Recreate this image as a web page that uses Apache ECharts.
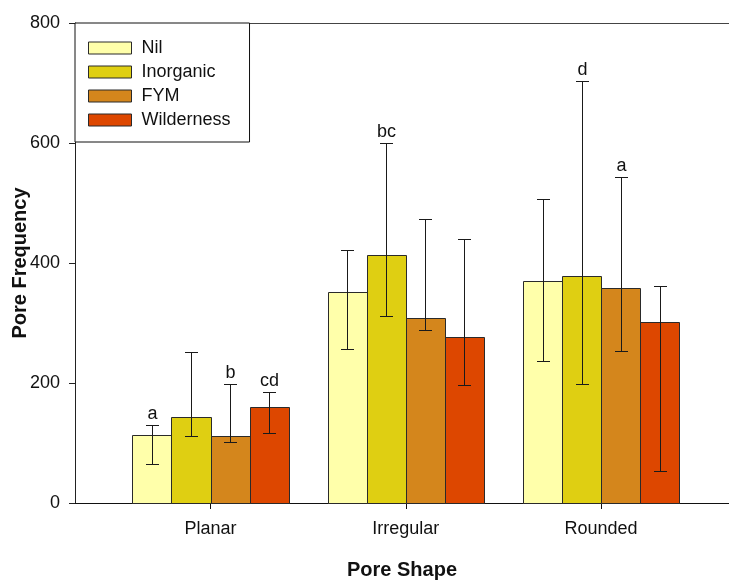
<!DOCTYPE html>
<html>
<head>
<meta charset="utf-8">
<script src="https://cdn.jsdelivr.net/npm/echarts@6/dist/echarts.min.js"></script>
<style>
  html, body { margin: 0; padding: 0; background: #fff; }
  #chart { width: 729px; height: 581px; }
</style>
</head>
<body>
<div id="chart"></div>
<script>
// Pore shape categories (placed at x = 1, 2, 3 on the value axis)
const shapes = ['Planar', 'Irregular', 'Rounded'];
const treatments = ['Nil', 'Inorganic', 'FYM', 'Wilderness'];

// Mean pore frequency with lower / upper error limits per treatment
const nilMean   = [113, 352, 370];
const nilLow    = [65, 256, 237];
const nilHigh   = [130, 422, 507];

const inorgMean = [144, 414, 378];
const inorgLow  = [112, 312, 198];
const inorgHigh = [252, 600, 704];

const fymMean   = [112, 309, 358];
const fymLow    = [102, 288, 253];
const fymHigh   = [199, 474, 543];

const wildMean  = [160, 277, 302];
const wildLow   = [116, 197, 53];
const wildHigh  = [185, 440, 361];

// Significance letters written above the upper error limit
const nilLetters   = ['a', '', ''];
const inorgLetters = ['', 'bc', 'd'];
const fymLetters   = ['b', '', 'a'];
const wildLetters  = ['cd', '', ''];

const yTicks = [0, 200, 400, 600, 800];

const colors = ['#FFFFAA', '#DFCF12', '#D4861C', '#DD4700'];
const means  = [nilMean, inorgMean, fymMean, wildMean];
const lows   = [nilLow, inorgLow, fymLow, wildLow];
const highs  = [nilHigh, inorgHigh, fymHigh, wildHigh];
const letters = [nilLetters, inorgLetters, fymLetters, wildLetters];

const offsets = [-0.3, -0.1, 0.1, 0.3];   // bar centre offset within a group
const barHalf = 0.1;                       // half bar width in axis units
const capHalf = 6.5;                       // half error-cap width in px
const FONT = '"Liberation Sans", Arial, sans-serif';

function renderItem(params, api) {
  const s = params.seriesIndex;
  const cat = api.value(0), mean = api.value(1), lo = api.value(2), hi = api.value(3);
  const c = cat + offsets[s];
  const tl = api.coord([c - barHalf, mean]);
  const br = api.coord([c + barHalf, 0]);
  const pHi = api.coord([c, hi]);
  const pLo = api.coord([c, lo]);
  const x = Math.round(pHi[0]) + 0.5;
  const yHi = Math.round(pHi[1]) + 0.5;
  const yLo = Math.round(pLo[1]) + 0.5;
  const lineStyle = { stroke: '#1a1a1a', lineWidth: 1 };
  const children = [
    {
      type: 'rect',
      shape: {
        x: Math.round(tl[0]) + 0.5, y: Math.round(tl[1]) + 0.5,
        width: Math.round(br[0]) - Math.round(tl[0]),
        height: Math.round(br[1]) - Math.round(tl[1])
      },
      style: { fill: colors[s], stroke: '#2a2a2a', lineWidth: 1 }
    },
    { type: 'line', shape: { x1: x, y1: yHi, x2: x, y2: yLo }, style: lineStyle },
    { type: 'line', shape: { x1: x - capHalf, y1: yHi, x2: x + capHalf, y2: yHi }, style: lineStyle },
    { type: 'line', shape: { x1: x - capHalf, y1: yLo, x2: x + capHalf, y2: yLo }, style: lineStyle }
  ];
  const txt = letters[s][params.dataIndex];
  if (txt) {
    children.push({
      type: 'text',
      style: {
        x: x, y: yHi - 2, text: txt,
        fill: '#111', font: '18px ' + FONT,
        textAlign: 'center', textVerticalAlign: 'bottom'
      }
    });
  }
  return { type: 'group', children: children };
}

const series = treatments.map(function (name, s) {
  return {
    name: name,
    type: 'custom',
    renderItem: renderItem,
    itemStyle: { color: colors[s], borderColor: '#2a2a2a', borderWidth: 1 },
    encode: { x: 0, y: 1 },
    data: shapes.map(function (_, i) {
      return [i + 1, means[s][i], lows[s][i], highs[s][i]];
    })
  };
});

const chart = echarts.init(document.getElementById('chart'), null, { renderer: 'canvas' });
chart.setOption({
  animation: false,
  backgroundColor: '#fff',
  textStyle: { fontFamily: FONT },
  grid: { left: 75, right: 0, top: 23, bottom: 78, outerBoundsMode: 'none', containLabel: false },
  legend: {
    orient: 'vertical',
    left: 75, top: 23,
    padding: [16, 19, 13, 13],
    itemWidth: 43, itemHeight: 12, itemGap: 6,
    icon: 'rect',
    backgroundColor: '#fff',
    borderColor: '#111', borderWidth: 1,
    itemStyle: { borderColor: '#2a2a2a', borderWidth: 1 },
    textStyle: { fontSize: 18, color: '#111', fontFamily: FONT, lineHeight: 18, padding: [0, 0, 0, 5] },
    data: treatments
  },
  xAxis: [
    {
      type: 'value', min: 0.306, max: 3.655,
      axisLine: { onZero: false, lineStyle: { color: '#111', width: 1 } },
      axisTick: { customValues: [1, 2, 3], length: 6, lineStyle: { color: '#111' } },
      axisLabel: {
        customValues: [1, 2, 3], margin: 17, fontSize: 18, color: '#111',
        formatter: function (v) { return shapes[Math.round(v) - 1]; }
      },
      splitLine: { show: false },
      name: 'Pore Shape', nameLocation: 'middle', nameGap: 57, nameMoveOverlap: false,
      nameTextStyle: { fontSize: 20, fontWeight: 'bold', color: '#111' }
    },
    {
      type: 'value', position: 'top', min: 0.306, max: 3.655,
      axisLine: { show: true, onZero: false, lineStyle: { color: '#444', width: 1 } },
      axisTick: { show: false }, axisLabel: { show: false }, splitLine: { show: false }
    }
  ],
  yAxis: {
    type: 'value', min: yTicks[0], max: yTicks[yTicks.length - 1], interval: 200,
    axisLine: { show: true, lineStyle: { color: '#222', width: 1 } },
    axisTick: { show: true, length: 6, lineStyle: { color: '#222' } },
    axisLabel: { margin: 15, fontSize: 18, color: '#111' },
    splitLine: { show: false },
    name: 'Pore Frequency', nameLocation: 'middle', nameRotate: 90, nameGap: 45, nameMoveOverlap: false,
    nameTextStyle: { fontSize: 20, fontWeight: 'bold', color: '#111' }
  },
  series: series
});
</script>
</body>
</html>
